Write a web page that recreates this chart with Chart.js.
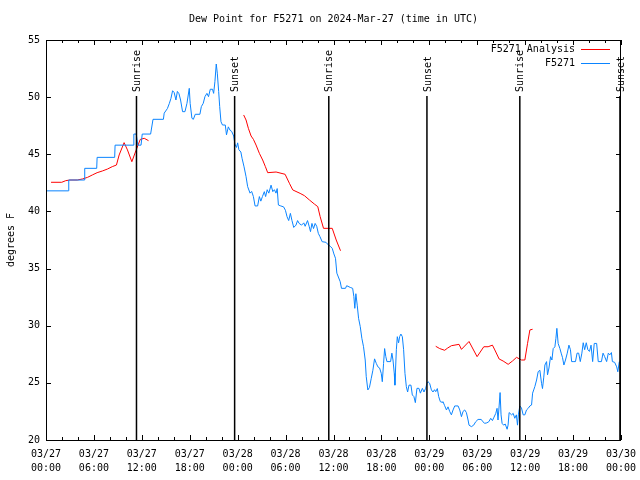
<!DOCTYPE html>
<html>
<head>
<meta charset="utf-8">
<script src="https://cdn.jsdelivr.net/npm/chart.js@4.4.1/dist/chart.umd.min.js"></script>
<style>
  html, body { margin: 0; padding: 0; background: #fff; }
  canvas { display: block; }
</style>
</head>
<body>
<canvas id="dewChart" width="640" height="480"></canvas>
<script>
const chartTitle = 'Dew Point for F5271 on 2024-Mar-27 (time in UTC)';
const dayLabels = ['03/27', '03/28', '03/29', '03/30'];
const hourLabels = ['00:00', '06:00', '12:00', '18:00'];

// [hours since 03/27 00:00 UTC, dew point F]
const stationObs = [
    [0, 41.8], [2.8, 41.8], [2.85, 42.75], [4.8, 42.75], [4.85, 43.77], [6.35, 43.77],
    [6.4, 44.73], [8.6, 44.73], [8.65, 45.8], [10.9, 45.8], [11.0, 46.77], [11.3, 46.77],
    [11.5, 45.8], [11.9, 45.8], [12.05, 46.77], [13.1, 46.77], [13.4, 48.06], [14.7, 48.06],
    [14.8, 48.6], [15.2, 49.0], [15.45, 49.46], [15.65, 49.9], [15.85, 50.56], [16.05, 50.4],
    [16.27, 49.75], [16.45, 50.5], [16.65, 50.3], [16.85, 49.75], [17.1, 48.73], [17.4, 48.73],
    [17.65, 49.46], [17.94, 50.77], [18.05, 49.46], [18.27, 48.15], [18.45, 48.06], [18.69, 48.5],
    [19.27, 48.5], [19.45, 49.17], [19.69, 49.46], [19.9, 50.04], [20.15, 50.33], [20.35, 50.04],
    [20.57, 50.69], [20.85, 50.69], [20.99, 50.33], [21.15, 51.35], [21.32, 52.9], [21.45, 52.1],
    [21.62, 50.5], [21.75, 49.17], [21.91, 47.85], [22.1, 47.56], [22.45, 47.56], [22.6, 46.7],
    [22.83, 47.4], [23.05, 47.1], [23.25, 47.0], [23.5, 46.6], [23.65, 45.9], [23.85, 45.6],
    [24.0, 46.0], [24.15, 45.4], [24.4, 45.2], [24.55, 44.65], [24.8, 43.9], [25.05, 43.04],
    [25.25, 42.17], [25.55, 41.6], [25.75, 41.75], [25.97, 41.3], [26.18, 40.48], [26.5, 40.48],
    [26.72, 41.3], [26.9, 40.9], [27.1, 41.3], [27.34, 41.73], [27.5, 41.3], [27.7, 41.9],
    [27.9, 41.6], [28.18, 42.3], [28.4, 41.73], [28.6, 41.9], [28.8, 41.6], [28.95, 42.0],
    [29.1, 40.56], [29.4, 40.48], [29.75, 40.4], [29.98, 40.1], [30.18, 39.54], [30.39, 39.2],
    [30.6, 39.83], [30.8, 39.2], [31.02, 38.6], [31.3, 38.8], [31.5, 39.2], [31.7, 38.95],
    [32.0, 38.8], [32.28, 39.0], [32.45, 38.7], [32.75, 39.2], [32.95, 38.7], [33.12, 38.23],
    [33.3, 38.95], [33.5, 38.5], [33.7, 38.95], [33.9, 38.7], [34.1, 38.08], [34.3, 37.8],
    [34.58, 37.35], [35.05, 37.3], [35.37, 37.06], [35.6, 36.95], [35.84, 36.77], [36.05, 36.28],
    [36.25, 35.9], [36.42, 34.6], [36.84, 33.85], [37.0, 33.27], [37.5, 33.27], [37.65, 33.5],
    [38.1, 33.35], [38.4, 33.27], [38.55, 32.54], [38.67, 31.52], [38.8, 32.8], [38.97, 31.8],
    [39.14, 30.65], [39.35, 29.92], [39.55, 28.9], [39.76, 28.16], [39.97, 27.0], [40.1, 25.54],
    [40.3, 24.38], [40.5, 24.6], [40.73, 25.4], [40.93, 26.1], [41.14, 27.1], [41.36, 26.7],
    [41.56, 26.4], [41.77, 26.3], [41.98, 25.83], [42.11, 25.1], [42.27, 26.7], [42.4, 28.0],
    [42.55, 27.3], [42.69, 26.86], [43.15, 26.86], [43.31, 27.6], [43.45, 27.0], [43.61, 25.83],
    [43.69, 24.8], [43.87, 27.9], [43.99, 29.04], [44.15, 28.5], [44.28, 29.04], [44.44, 29.27],
    [44.62, 29.04], [44.78, 27.9], [44.95, 25.83], [45.12, 24.67], [45.28, 24.2], [45.45, 24.8],
    [45.7, 24.8], [45.87, 23.94], [46.07, 23.8], [46.25, 23.27], [46.45, 24.52], [46.7, 24.52],
    [46.88, 24.1], [47.13, 24.52], [47.33, 24.2], [47.54, 24.52], [47.7, 24.96], [47.83, 25.1],
    [48.04, 24.96], [48.26, 24.38], [48.46, 24.2], [48.65, 24.4], [48.8, 24.23], [49.0, 24.5],
    [49.17, 23.8], [49.38, 23.35], [49.6, 23.3], [49.71, 23.35], [49.92, 23.0], [50.14, 22.63],
    [50.34, 22.9], [50.55, 22.5], [50.76, 22.2], [50.97, 22.63], [51.18, 22.98], [51.6, 22.98],
    [51.81, 22.63], [52.02, 22.04], [52.22, 22.5], [52.43, 22.63], [52.64, 22.4], [52.85, 21.75],
    [52.97, 21.3], [53.27, 21.17], [53.55, 21.3], [53.81, 21.6], [54.1, 21.8], [54.5, 21.8],
    [54.7, 21.6], [54.94, 21.46], [55.2, 21.5], [55.45, 21.6], [55.69, 21.9], [55.9, 21.7],
    [56.1, 22.0], [56.32, 22.33], [56.48, 22.77], [56.6, 21.75], [56.74, 22.98], [56.86, 24.15],
    [56.98, 22.2], [57.11, 21.46], [57.3, 21.3], [57.5, 21.4], [57.74, 20.94], [57.86, 21.3],
    [57.99, 22.4], [58.3, 22.2], [58.5, 22.33], [58.7, 21.9], [58.9, 22.2], [59.04, 21.3],
    [59.15, 22.2], [59.33, 22.98], [59.54, 22.8], [59.75, 22.2], [59.96, 22.2], [60.17, 22.63],
    [60.38, 22.77], [60.59, 22.98], [60.8, 23.06], [60.93, 24.1], [61.07, 24.38], [61.21, 24.67],
    [61.43, 25.25], [61.63, 25.98], [61.84, 26.1], [62.05, 24.96], [62.17, 24.5], [62.33, 25.5],
    [62.47, 26.56], [62.68, 26.86], [62.8, 25.7], [62.98, 26.3], [63.18, 27.29], [63.35, 27.0],
    [63.51, 28.0], [63.72, 28.15], [63.85, 28.9], [63.97, 29.77], [64.13, 28.45], [64.35, 28.0],
    [64.51, 27.6], [64.68, 27.2], [64.85, 26.56], [65.05, 27.0], [65.27, 27.6], [65.48, 28.3],
    [65.67, 27.9], [65.82, 26.86], [66.1, 26.86], [66.3, 26.86], [66.5, 27.6], [66.7, 27.6],
    [66.9, 26.86], [67.1, 27.6], [67.27, 28.51], [67.45, 27.9], [67.65, 28.51], [67.85, 27.9],
    [68.05, 27.75], [68.25, 28.3], [68.45, 26.86], [68.65, 28.45], [68.95, 28.45], [69.15, 26.86],
    [69.55, 26.86], [69.75, 27.6], [69.95, 27.3], [70.2, 26.86], [70.41, 27.6], [70.6, 27.45],
    [70.8, 27.65], [70.92, 26.86], [71.2, 26.8], [71.46, 26.4], [71.6, 25.97], [71.79, 26.86]
];

// analysis series, null = no analysis (gap in the line)
const analysisObs = [
    [0.63, 42.55], [1.97, 42.55], [2.47, 42.69], [2.97, 42.75], [3.93, 42.75], [4.56, 42.84],
    [5.2, 42.98], [5.8, 43.19], [6.4, 43.39], [7.06, 43.54], [7.7, 43.71], [8.3, 43.92],
    [8.82, 44.06], [9.16, 44.94], [9.78, 46.02], [10.2, 45.38], [10.75, 44.35], [11.25, 45.3],
    [11.8, 46.3], [12.3, 46.4], [12.84, 46.19],
    [18, null],
    [24.75, 48.44], [25.05, 48.0], [25.34, 47.27], [25.68, 46.6], [25.97, 46.31], [26.3, 45.81],
    [26.72, 45.08], [27.13, 44.5], [27.47, 43.92], [27.76, 43.39], [28.81, 43.45], [29.94, 43.25],
    [30.48, 42.46], [30.9, 41.88], [31.82, 41.58], [32.36, 41.38], [32.99, 41.0], [33.6, 40.65],
    [34.03, 40.42], [34.33, 39.54], [34.75, 38.52], [35.84, 38.52], [36.34, 37.5], [36.88, 36.56],
    [42, null],
    [48.8, 28.2], [49.3, 28.0], [49.92, 27.85], [50.3, 28.05], [50.76, 28.25], [51.72, 28.37],
    [52.02, 27.93], [52.97, 28.62], [53.98, 27.29], [54.82, 28.16], [55.36, 28.16], [55.9, 28.3],
    [56.2, 27.88], [56.74, 27.09], [57.24, 26.91], [57.87, 26.62], [58.41, 26.91], [58.92, 27.23],
    [59.54, 27.0], [59.96, 27.0], [60.3, 28.46], [60.59, 29.63], [60.93, 29.69]
];

const sunHours = [11.33, 23.62, 35.41, 47.7, 59.33, 71.87];
const sunLabels = ['Sunrise', 'Sunset', 'Sunrise', 'Sunset', 'Sunrise', 'Sunset'];
const sunLineTop = 50.1;

const seriesNames = ['F5271 Analysis', 'F5271'];
const seriesColors = ['#ff0000', '#0a84ff'];

const FONT = '10px "DejaVu Sans Mono", monospace';

function toPoints(pairs) {
    return pairs.map(p => ({ x: p[0], y: p[1] }));
}

function sunPoints() {
    const pts = [];
    sunHours.forEach(h => {
        pts.push({ x: h, y: 20 });
        pts.push({ x: h, y: sunLineTop });
        pts.push({ x: h, y: null });
    });
    return pts;
}

// gnuplot-style decorations: border, inward ticks, title, legend, sun labels
const decorPlugin = {
    id: 'decor',
    afterDraw(chart) {
        const ctx = chart.ctx;
        const area = chart.chartArea;
        const xs = chart.scales.x;
        const ys = chart.scales.y;
        ctx.save();
        ctx.strokeStyle = '#000';
        ctx.lineWidth = 1;
        ctx.strokeRect(area.left + 0.5, area.top + 0.5, area.right - area.left - 1, area.bottom - area.top);

        ctx.beginPath();
        for (let v = 0; v <= 72; v += 2) {
            const px = Math.round(xs.getPixelForValue(v)) + 0.5;
            const len = v % 6 === 0 ? 5 : 3;
            ctx.moveTo(px, area.bottom);
            ctx.lineTo(px, area.bottom - len);
            ctx.moveTo(px, area.top);
            ctx.lineTo(px, area.top + len);
        }
        for (let v = 20; v <= 55; v += 5) {
            const py = Math.round(ys.getPixelForValue(v)) + 0.5;
            ctx.moveTo(area.left, py);
            ctx.lineTo(area.left + 5, py);
            ctx.moveTo(area.right, py);
            ctx.lineTo(area.right - 5, py);
        }
        ctx.stroke();

        ctx.fillStyle = '#000';
        ctx.font = FONT;
        ctx.textAlign = 'center';
        ctx.textBaseline = 'middle';
        ctx.fillText(chartTitle, (area.left + area.right) / 2, 19);

        // legend
        ctx.textAlign = 'right';
        seriesNames.forEach((name, i) => {
            const y = 49 + i * 14;
            ctx.fillStyle = '#000';
            ctx.fillText(name, 575, y);
            ctx.strokeStyle = seriesColors[i];
            ctx.beginPath();
            ctx.moveTo(581, y + 0.5);
            ctx.lineTo(610, y + 0.5);
            ctx.stroke();
        });

        // sunrise / sunset labels
        ctx.fillStyle = '#000';
        ctx.textAlign = 'left';
        sunHours.forEach((h, i) => {
            const px = xs.getPixelForValue(h);
            ctx.save();
            ctx.translate(px + 1, 92);
            ctx.rotate(-Math.PI / 2);
            ctx.fillText(sunLabels[i], 0, 0);
            ctx.restore();
        });
        ctx.restore();
    }
};

new Chart(document.getElementById('dewChart'), {
    type: 'line',
    data: {
        datasets: [
            {
                label: 'sun',
                data: sunPoints(),
                borderColor: '#000',
                borderWidth: 1.5,
                pointRadius: 0,
                spanGaps: false
            },
            {
                label: seriesNames[1],
                data: toPoints(stationObs),
                borderColor: seriesColors[1],
                borderWidth: 1,
                pointRadius: 0,
                tension: 0
            },
            {
                label: seriesNames[0],
                data: toPoints(analysisObs),
                borderColor: seriesColors[0],
                borderWidth: 1,
                pointRadius: 0,
                tension: 0,
                spanGaps: false
            }
        ]
    },
    options: {
        responsive: false,
        animation: false,
        devicePixelRatio: 1,
        layout: { padding: { top: 40, right: 19, left: 0, bottom: 0 } },
        plugins: {
            legend: { display: false },
            title: { display: false },
            tooltip: { enabled: false }
        },
        scales: {
            x: {
                type: 'linear',
                min: 0,
                max: 72,
                afterFit: (scale) => {
                    scale.height = 40;
                    scale.paddingLeft = 0;
                    scale.paddingRight = 0;
                },
                grid: { display: false, drawTicks: false },
                border: { display: false },
                ticks: {
                    stepSize: 6,
                    autoSkip: false,
                    maxRotation: 0,
                    padding: 8,
                    color: '#000',
                    font: { family: '"DejaVu Sans Mono", monospace', size: 10, lineHeight: 1.35 },
                    callback: (v) => [dayLabels[Math.floor(v / 24)], hourLabels[(v % 24) / 6]]
                }
            },
            y: {
                min: 20,
                max: 55,
                afterFit: (scale) => {
                    scale.width = 46;
                    scale.paddingTop = 0;
                    scale.paddingBottom = 0;
                },
                grid: { display: false, drawTicks: false },
                border: { display: false },
                title: {
                    display: true,
                    text: 'degrees F',
                    color: '#000',
                    padding: { top: 5, bottom: 0 },
                    font: { family: '"DejaVu Sans Mono", monospace', size: 10 }
                },
                ticks: {
                    stepSize: 5,
                    padding: 6,
                    color: '#000',
                    font: { family: '"DejaVu Sans Mono", monospace', size: 10 }
                }
            }
        }
    },
    plugins: [decorPlugin]
});
</script>
</body>
</html>
